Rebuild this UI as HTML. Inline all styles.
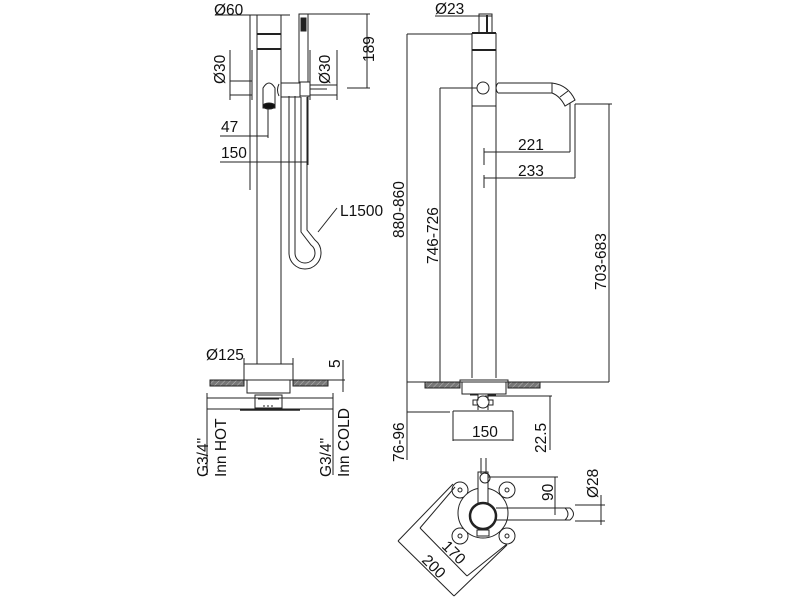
<!DOCTYPE html>
<html><head><meta charset="utf-8"><style>
html,body{margin:0;padding:0;background:#fff;width:800px;height:600px;overflow:hidden}
svg{display:block}
text{font-family:"Liberation Sans",sans-serif;font-size:15.5px;fill:#111}
</style></head><body>
<svg width="800" height="600" viewBox="0 0 800 600" xmlns="http://www.w3.org/2000/svg">
<defs>
<pattern id="h" width="4" height="4" patternUnits="userSpaceOnUse" patternTransform="rotate(45)"><rect width="4" height="4" fill="#777"/><line x1="0" y1="0" x2="0" y2="4" stroke="#bbb" stroke-width="1"/></pattern>
</defs>
<g stroke="#222" stroke-width="1" fill="none">
<!-- LEFT VIEW -->
<line x1="257" y1="15" x2="257" y2="364"/><line x1="281" y1="15" x2="281" y2="364"/>
<line x1="257" y1="15" x2="281" y2="15"/>
<line x1="257" y1="34" x2="281" y2="34" stroke-width="2"/>
<line x1="257" y1="49" x2="281" y2="49" stroke-width="2"/>
<line x1="215" y1="15" x2="290" y2="15"/>
<line x1="250" y1="15" x2="250" y2="190"/>
<rect x="230" y="81" width="22" height="14"/>
<line x1="230" y1="50" x2="230" y2="100"/>
<line x1="252" y1="50" x2="252" y2="100"/>
<path d="M263 108 L263 88 Q269 78 275 88 L275 108 Z"/>
<ellipse cx="269" cy="106" rx="6" ry="3" fill="#111"/>
<path d="M281 83 L300 83 L300 97 L281 97 Z"/>
<path d="M279 84 Q276 90 279 96"/>
<rect x="299" y="14" width="9" height="68"/>
<rect x="301" y="18" width="5" height="13" fill="#222"/>
<rect x="300" y="82" width="10" height="14"/>
<rect x="310" y="85" width="27" height="10"/>
<line x1="310" y1="89" x2="327" y2="89"/>
<line x1="337" y1="50" x2="337" y2="100"/>
<line x1="310" y1="50" x2="310" y2="100"/>
<line x1="308" y1="14" x2="370" y2="14"/>
<line x1="347" y1="88" x2="370" y2="88"/>
<line x1="367" y1="14" x2="367" y2="88"/>
<line x1="220" y1="136" x2="268" y2="136"/><line x1="268" y1="108" x2="268" y2="138"/>
<line x1="220" y1="162" x2="308" y2="162"/><line x1="308" y1="96" x2="308" y2="165"/>
<path d="M289 96 L289 253 A16 16 0 0 0 321 253 A16 16 0 0 0 315 240 L307 230 L307 97"/>
<path d="M295 96 L295 253 A10 10 0 0 0 315 253 A10 10 0 0 0 311 245 L301 232 L301 97"/>
<line x1="318" y1="232" x2="337" y2="208"/>
<line x1="244" y1="364" x2="293" y2="364"/>
<line x1="244" y1="358" x2="244" y2="380"/><line x1="293" y1="358" x2="293" y2="380"/>
<rect x="210" y="380" width="34" height="6" fill="url(#h)"/>
<rect x="293" y="380" width="35" height="6" fill="url(#h)"/>
<line x1="293" y1="380" x2="345" y2="380"/>
<line x1="244" y1="380" x2="293" y2="380"/>
<rect x="247" y="380" width="43" height="13"/>
<rect x="255" y="395" width="27" height="13"/>
<line x1="258" y1="399" x2="279" y2="399"/>
<line x1="263" y1="406" x2="275" y2="406" stroke-dasharray="2 2"/>
<line x1="240" y1="410" x2="300" y2="410" stroke-width="1.5"/>
<line x1="207" y1="393" x2="207" y2="475"/><line x1="333" y1="393" x2="333" y2="475"/>
<line x1="207" y1="398" x2="333" y2="398"/><line x1="207" y1="409" x2="333" y2="409"/>
<line x1="343" y1="360" x2="343" y2="392"/>
<!-- RIGHT VIEW -->
<rect x="479" y="14" width="13" height="19"/>
<line x1="487" y1="15" x2="487" y2="33" stroke-width="2"/>
<line x1="435" y1="16" x2="492" y2="16"/>
<line x1="472" y1="33" x2="472" y2="378"/><line x1="496" y1="33" x2="496" y2="378"/>
<line x1="472" y1="33" x2="496" y2="33" stroke-width="2"/>
<line x1="472" y1="50" x2="496" y2="50" stroke-width="2"/>
<line x1="472" y1="106" x2="496" y2="106"/>
<circle cx="483" cy="88" r="6"/>
<line x1="407" y1="34" x2="472" y2="34"/>
<line x1="407" y1="34" x2="407" y2="460"/>
<line x1="440" y1="88" x2="477" y2="88"/>
<line x1="440" y1="88" x2="440" y2="382"/>
<path d="M498 83 L552 83 Q568 85 575 100 L565 106 Q560 96 552 93 L498 93"/>
<path d="M498 83 Q494 88 498 93"/>
<line x1="552" y1="83" x2="552" y2="93"/>
<line x1="560" y1="97" x2="568" y2="91"/>
<line x1="570" y1="103" x2="570" y2="152"/>
<line x1="575" y1="104" x2="575" y2="178"/>
<line x1="575" y1="104" x2="612" y2="104"/>
<line x1="609" y1="104" x2="609" y2="382"/>
<line x1="484" y1="152" x2="570" y2="152"/><line x1="484" y1="148" x2="484" y2="165"/>
<line x1="484" y1="178" x2="575" y2="178"/><line x1="484" y1="175" x2="484" y2="188"/>
<line x1="407" y1="382" x2="609" y2="382"/>
<rect x="425" y="382" width="35" height="6" fill="url(#h)"/>
<rect x="508" y="382" width="32" height="6" fill="url(#h)"/>
<path d="M460 386 L460 380 L508 380 L508 386"/>
<rect x="462" y="382" width="44" height="12"/>
<path d="M470 395 L478 395 L478 400 L473 400 L473 405 L478 405 L478 410 M496 395 L488 395 L488 400 L493 400 L493 405 L488 405 L488 410"/>
<circle cx="483" cy="402" r="6"/>
<line x1="485" y1="396" x2="552" y2="396"/>
<line x1="407" y1="412" x2="450" y2="412"/>
<line x1="453" y1="411" x2="513" y2="411"/>
<line x1="453" y1="411" x2="453" y2="441"/><line x1="513" y1="411" x2="513" y2="441"/>
<line x1="453" y1="440" x2="513" y2="440"/>
<line x1="550" y1="396" x2="550" y2="450"/>
<!-- PLAN -->
<circle cx="460" cy="490" r="8" fill="#fff"/>
<circle cx="507" cy="490" r="8" fill="#fff"/>
<circle cx="460" cy="536" r="8" fill="#fff"/>
<circle cx="507" cy="536" r="8" fill="#fff"/>
<circle cx="483" cy="513" r="25" fill="#fff"/>
<circle cx="460" cy="490" r="2"/><circle cx="507" cy="490" r="2"/>
<circle cx="460" cy="536" r="2"/><circle cx="507" cy="536" r="2"/>
<rect x="478" y="472" width="10" height="40" fill="#fff"/>
<line x1="481" y1="458" x2="481" y2="474"/><line x1="486" y1="458" x2="486" y2="474"/>
<circle cx="485" cy="478" r="5"/>
<circle cx="483" cy="516" r="13" stroke-width="2.5" fill="#fff"/>
<rect x="477" y="530" width="12" height="6"/>
<path d="M496 508 L570 508 Q577 514 570 520 L496 520"/>
<path d="M565 508 Q571 514 565 520"/>
<line x1="488" y1="477" x2="558" y2="477"/>
<line x1="555" y1="477" x2="555" y2="515"/>
<line x1="575" y1="505" x2="605" y2="505"/><line x1="575" y1="521" x2="605" y2="521"/>
<line x1="601" y1="495" x2="601" y2="525"/>
<line x1="455" y1="487" x2="420" y2="528"/>
<line x1="507" y1="544" x2="467" y2="576"/>
<line x1="420" y1="528" x2="467" y2="576"/>
<line x1="453" y1="484" x2="398" y2="541"/>
<line x1="398" y1="541" x2="454" y2="596"/>
<line x1="507" y1="545" x2="454" y2="596"/>
</g>
<!-- TEXT -->
<text x="214" y="15">Ø60</text>
<text x="330" y="84" transform="rotate(-90 330 84)">Ø30</text>
<text x="225" y="84" transform="rotate(-90 225 84)">Ø30</text>
<text x="374" y="62" transform="rotate(-90 374 62)">189</text>
<text x="221" y="132">47</text>
<text x="221" y="158">150</text>
<text x="340" y="216">L1500</text>
<text x="206" y="360">Ø125</text>
<text x="340" y="368" transform="rotate(-90 340 368)">5</text>
<text x="208" y="477" transform="rotate(-90 208 477)">G3/4"</text>
<text x="226" y="477" transform="rotate(-90 226 477)">Inn HOT</text>
<text x="331" y="477" transform="rotate(-90 331 477)">G3/4"</text>
<text x="349" y="477" transform="rotate(-90 349 477)">Inn COLD</text>
<text x="435" y="14">Ø23</text>
<text x="404" y="238" transform="rotate(-90 404 238)">880-860</text>
<text x="438" y="264" transform="rotate(-90 438 264)">746-726</text>
<text x="606" y="290" transform="rotate(-90 606 290)">703-683</text>
<text x="518" y="150">221</text>
<text x="518" y="176">233</text>
<text x="472" y="437">150</text>
<text x="546" y="453" transform="rotate(-90 546 453)">22.5</text>
<text x="404" y="462" transform="rotate(-90 404 462)">76-96</text>
<text x="553" y="501" transform="rotate(-90 553 501)">90</text>
<text x="598" y="498" transform="rotate(-90 598 498)">Ø28</text>
<text x="441" y="547" transform="rotate(45 441 547)">170</text>
<text x="421" y="561" transform="rotate(45 421 561)">200</text>
</svg>
</body></html>
